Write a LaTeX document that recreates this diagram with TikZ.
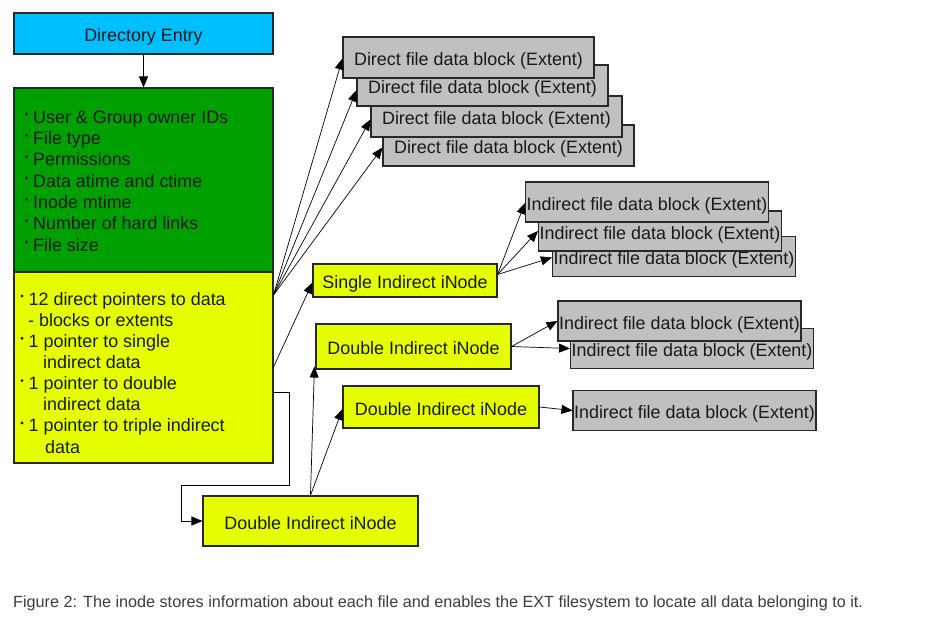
\documentclass[tikz,border=0pt]{standalone}
\usepackage{fontspec}
\setmainfont{Liberation Sans}
\usetikzlibrary{arrows.meta,calc}
\definecolor{cyanfill}{RGB}{0,191,255}
\definecolor{greenfill}{RGB}{0,160,0}
\definecolor{yellowfill}{RGB}{230,255,0}
\definecolor{grayfill}{RGB}{192,192,192}
\definecolor{edgecol}{RGB}{40,40,40}
\definecolor{textcol}{RGB}{25,25,25}
\definecolor{captext}{RGB}{60,60,60}
\begin{document}
\begin{tikzpicture}[x=1pt,y=-1pt,
  box/.style={draw=edgecol, line width=1.1pt, inner sep=0pt, font=\fontsize{17.9}{20}\selectfont, text=textcol, text height=16pt, text depth=0pt},
  blk/.style={box, fill=grayfill, minimum width=251pt, minimum height=41pt},
  iblk/.style={box, fill=grayfill, minimum width=243pt, minimum height=40pt},
  inode/.style={box, fill=yellowfill},
  item/.style={anchor=base west, inner sep=0pt, font=\fontsize{17.9}{20}\selectfont, text=textcol},
  bulletdot/.style={fill=textcol},
  conn/.style={draw=black, line width=0.7pt, -{Triangle[length=11pt,width=9pt]}},
]
\useasboundingbox (0,0) rectangle (941,618);
\fill[white] (0,0) rectangle (941,618);

% left column
\node[box, fill=cyanfill, minimum width=259pt, minimum height=41pt] (dir) at (143.5,33.5) {Directory Entry};
\node[box, fill=greenfill, minimum width=259pt, minimum height=184pt] (green) at (143.5,180) {};
\node[box, fill=yellowfill, minimum width=259pt, minimum height=191pt] (yellow) at (143.5,367.5) {};

\node[item] (g1) at (33,123) {User \& Group owner IDs};
\node[item] (g2) at (33,144.3) {File type};
\node[item] (g3) at (33,165.7) {Permissions};
\node[item] (g4) at (33,187) {Data atime and ctime};
\node[item] (g5) at (33,208.3) {Inode mtime};
\node[item] (g6) at (33,229.7) {Number of hard links};
\node[item] (g7) at (33,251) {File size};
\foreach \b in {123,144.3,165.7,187,208.3,229.7,251}
  \fill[bulletdot] (26.5,\b-9) circle (1.6pt);

\node[item] (y1) at (28.5,305) {12 direct pointers to data};
\node[item] (y2) at (28,326.2) {- blocks or extents};
\node[item] (y3) at (28.5,347.3) {1 pointer to single};
\node[item] (y4) at (43,368.5) {indirect data};
\node[item] (y5) at (28.5,389.6) {1 pointer to double};
\node[item] (y6) at (43,410.8) {indirect data};
\node[item] (y7) at (28.5,431.9) {1 pointer to triple indirect};
\node[item] (y8) at (45,453) {data};
\foreach \b in {305,347.3,389.6,431.9}
  \fill[bulletdot] (22,\b-9) circle (1.6pt);

% direct blocks (bottom-most first)
\node[blk] (d4) at (508.5,145.5) {Direct file data block (Extent)};
\node[blk] (d3) at (496.5,116.5) {Direct file data block (Extent)};
\node[blk] (d2) at (482.5,85.5) {Direct file data block (Extent)};
\node[blk] (d1) at (468.5,57.5) {Direct file data block (Extent)};

% single indirect
\node[inode, minimum width=184pt, minimum height=33pt] (single) at (405,280.5) {Single Indirect iNode};
\node[iblk] (sC) at (674,256.5) {Indirect file data block (Extent)};
\node[iblk] (sB) at (660,231) {Indirect file data block (Extent)};
\node[iblk] (sA) at (647,202) {Indirect file data block (Extent)};

% double indirect
\node[inode, minimum width=195pt, minimum height=45pt] (di1) at (413.5,346.5) {Double Indirect iNode};
\node[inode, minimum width=196pt, minimum height=42pt] (di2) at (441,407) {Double Indirect iNode};
\node[inode, minimum width=215pt, minimum height=50pt] (di3) at (310.5,521) {Double Indirect iNode};
\node[iblk] (bE) at (692,348.5) {Indirect file data block (Extent)};
\node[iblk] (bD) at (679.5,321) {Indirect file data block (Extent)};
\node[iblk] (bF) at (694.5,410.5) {Indirect file data block (Extent)};

% connectors
\draw[conn] (dir.south) -- (green.north);
\coordinate (src) at (273.5,295);
\coordinate (src2) at (273.5,367);
\coordinate (src3) at (273.5,392);
\draw[conn] (src) -- ($(d1.west)+(0,1)$);
\draw[conn] (src) -- ($(d2.west)+(0,5)$);
\draw[conn] (src) -- ($(d3.west)+(0,3)$);
\draw[conn] (src) -- ($(d4.west)+(0,2)$);
\draw[conn] (src2) -- ($(single.west)+(0,2)$);
\draw[conn] ($(single.east)+(0,-6)$) -- ($(sA.west)+(0,1)$);
\draw[conn] ($(single.east)+(0,-6)$) -- (sB.west);
\draw[conn] ($(single.east)+(0,-6)$) -- ($(sC.west)+(0,1)$);
\draw[conn] (di1.east) -- (bD.west);
\draw[conn] (di1.east) -- (bE.west);
\draw[conn] (di2.east) -- (bF.west);
\draw[conn] (src3) -- (289,392) -- (289,485) -- (181,485) |- (di3.west);
\coordinate (dtop) at ($(di3.north west)+(108,0)$);
\draw[conn] (dtop) -- ($(di1.south west)+(-1,-3)$);
\draw[conn] (dtop) -- ($(di2.west)+(0,2)$);

% caption
\node[anchor=base west, inner sep=0pt, text=captext, font=\fontsize{16.2}{18}\selectfont] (cap) at (13,607)
  {Figure 2: The inode stores information about each file and enables the EXT filesystem to locate all data belonging to it.};
\end{tikzpicture}
\end{document}
